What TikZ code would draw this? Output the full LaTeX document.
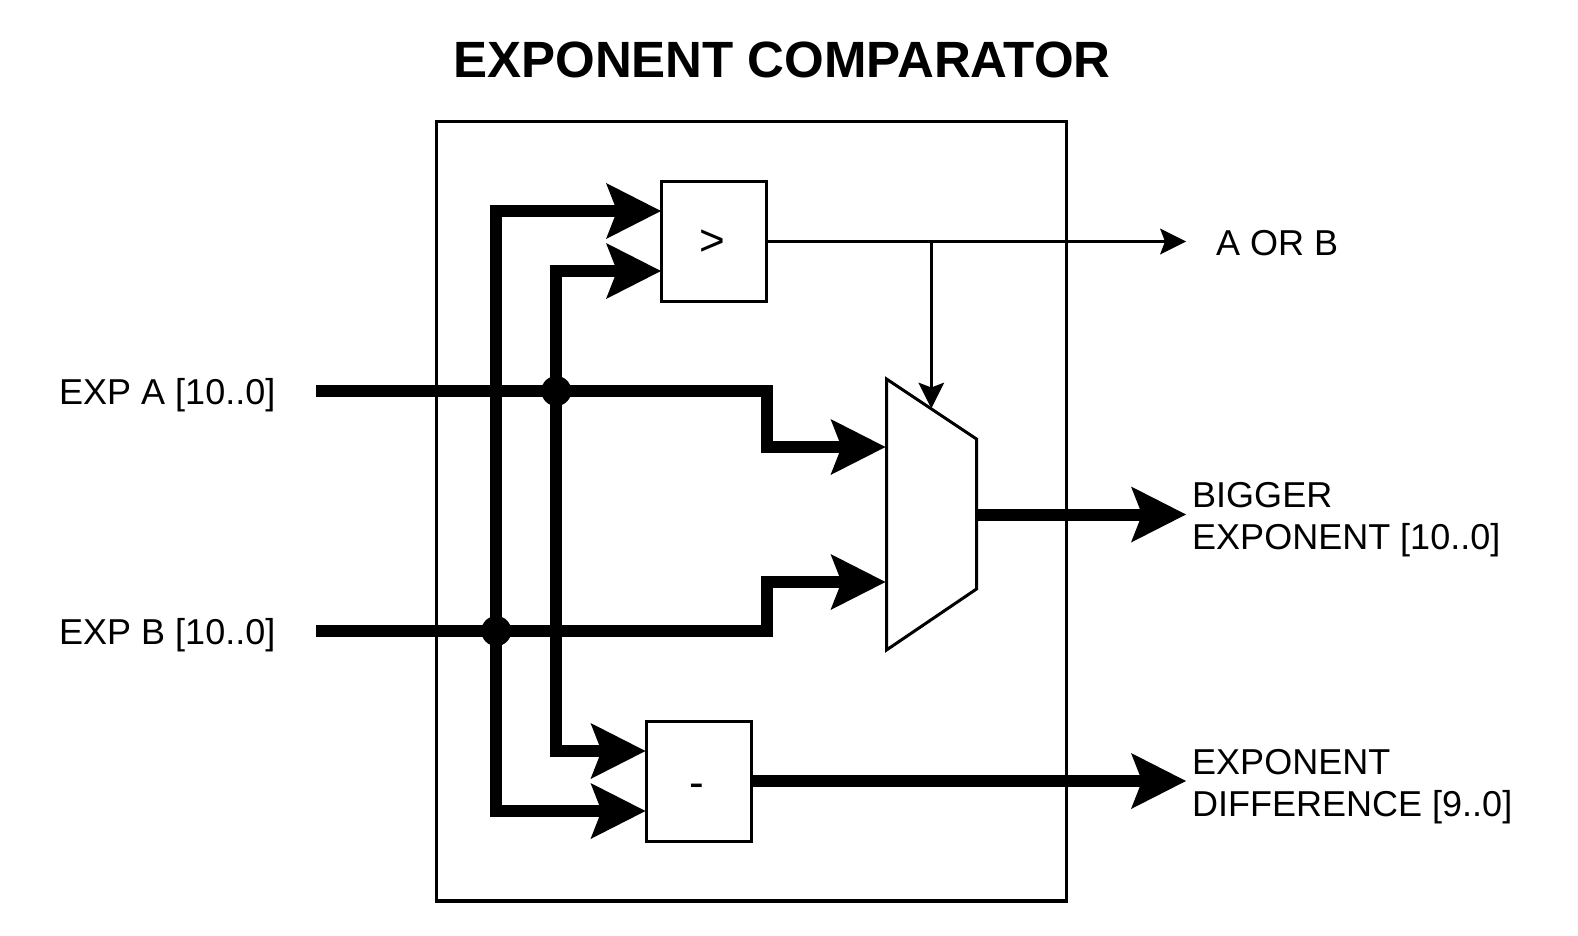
\documentclass[tikz,border=0pt]{standalone}
\usepackage{fontspec}
\setmainfont{Liberation Sans}
\usetikzlibrary{arrows.meta}
\tikzset{
  blk/.style={draw=black,line width=3.3pt,fill=white,inner sep=0pt,outer sep=0pt,minimum width=105pt,minimum height=120pt},
  lbl/.style={anchor=west,inner sep=0pt,align=left,font=\fontsize{36}{42.5}\selectfont},
  sym/.style={inner sep=0pt,font=\fontsize{44}{48}\selectfont},
  bus/.style={line width=12pt,line join=miter,-{Stealth[length=55pt,width=56pt,inset=11pt,line width=0pt]}},
  wire/.style={line width=3pt,-{Stealth[length=26pt,width=26pt,inset=5pt,line width=0pt]}},
  dot/.style={circle,fill=black,inner sep=0pt,minimum size=30pt}
}
\begin{document}
\begin{tikzpicture}[x=1pt,y=-1pt]
\useasboundingbox (0,0) rectangle (1578,936);
\node[anchor=center,inner sep=0pt,font=\bfseries\fontsize{51}{60}\selectfont] (title) at (782,60) {EXPONENT COMPARATOR};
\node[draw=black,line width=3.3pt,minimum width=630pt,minimum height=779.5pt,inner sep=0pt,outer sep=0pt] (outer) at (751.5,511.2) {};
% blocks
\node[blk] (cmp) at (714,241.5) {};
\node[sym] (cmptext) at (712,243) {>};
\node[blk] (sub) at (699,781.5) {};
\node[sym] (subtext) at (697,791) {-};
% mux
\coordinate (m1) at (886.5,379);
\coordinate (m2) at (976.5,439);
\coordinate (m3) at (976.5,589);
\coordinate (m4) at (886.5,650);
\draw[line width=3pt,fill=white,line join=miter] (m1)--(m2)--(m3)--(m4)--cycle;
% labels
\node[lbl] (expa) at (59,395.5) {EXP A [10..0]};
\node[lbl] (expb) at (59,635.5) {EXP B [10..0]};
\node[lbl] (aorb) at (1216,243) {A OR B};
\node[lbl] (bigger) at (1192,519.5) {BIGGER\\EXPONENT [10..0]};
\node[lbl] (diff) at (1192,786.5) {EXPONENT\\DIFFERENCE [9..0]};
% anchors
\coordinate (ain) at (316,391);
\coordinate (bin) at (316,631);
\coordinate (ja) at (556.3,391);
\coordinate (jb) at (496.3,631);
\coordinate (cmpa) at (661,211);
\coordinate (cmpb) at (661,271);
\coordinate (suba) at (645.5,751);
\coordinate (subb) at (645.5,811);
\coordinate (muxa) at (885.5,447);
\coordinate (muxb) at (885.5,582);
\coordinate (muxout) at (976.5,514.5);
\coordinate (bigend) at (1186,514.5);
\coordinate (diffend) at (1186,781);
\coordinate (orend) at (1186,241.5);
\coordinate (branch) at (931.3,241.5);
\coordinate (sel) at (931.3,408.5);
% buses
\draw[bus] (ain) -- (766.5,391) -- (766.5,447) -- (muxa);
\draw[bus] (bin) -- (766.5,631) -- (766.5,582) -- (muxb);
\draw[bus] (jb) -- (496.3,211) -- (cmpa);
\draw[bus] (ja) -- (556.3,271) -- (cmpb);
\draw[bus] (ja) -- (556.3,751) -- (suba);
\draw[bus] (jb) -- (496.3,811) -- (subb);
\draw[bus] (muxout) -- (bigend);
\draw[bus] (sub.east |- diffend) -- (diffend);
\node[dot] (dota) at (ja) {};
\node[dot] (dotb) at (jb) {};
% thin wires
\draw[wire] (cmp.east |- orend) -- (orend);
\draw[wire] (branch) -- (sel);
\end{tikzpicture}
\end{document}
